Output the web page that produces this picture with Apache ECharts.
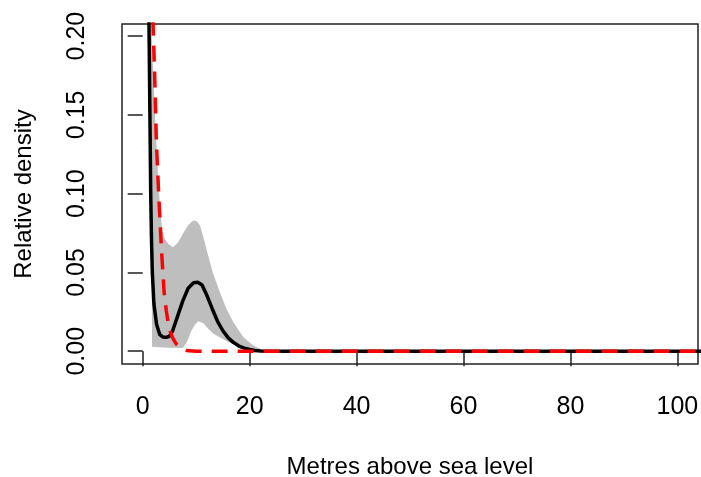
<!DOCTYPE html>
<html>
<head>
<meta charset="utf-8">
<script src="https://cdn.jsdelivr.net/npm/echarts@6/dist/echarts.min.js"></script>
<style>
html,body{margin:0;padding:0;background:#fff;}
#chart{width:701px;height:477px;}
</style>
</head>
<body>
<div id="chart"></div>
<script>
// Tick labels
var xTicks = [0, 20, 40, 60, 80, 100];
var yTicks = [0, 0.05, 0.10, 0.15, 0.20];

// Black solid curve (estimated density)
var blackX = [1.05, 1.2, 1.35, 1.5, 1.65, 1.8, 2.1, 2.6, 3.2, 3.8, 4.4, 5.0, 5.6, 6.5, 7.5, 8.5, 9.5, 10.3, 11.1, 12.0, 13.0, 14.0, 15.0, 16.0, 17.0, 18.0, 19.0, 20.0, 21.0, 22.0, 24.0, 30, 50, 70, 90, 110];
var blackY = [0.26, 0.20, 0.15, 0.10, 0.07, 0.05, 0.03, 0.017, 0.0105, 0.009, 0.0088, 0.0095, 0.013, 0.022, 0.032, 0.040, 0.0435, 0.0438, 0.042, 0.0355, 0.027, 0.019, 0.013, 0.0085, 0.0055, 0.0033, 0.002, 0.0011, 0.0005, 0.0002, 0, 0, 0, 0, 0, 0];

// Red dashed curve (reference density)
var redX = [1.7, 1.93, 2.24, 2.56, 3.0, 3.5, 4.0, 4.4, 4.73, 5.2, 5.67, 6.3, 7.2, 8.2, 10, 30, 50, 70, 90, 110];
var redY = [0.26, 0.208, 0.175, 0.133, 0.099, 0.065, 0.0377, 0.026, 0.0187, 0.012, 0.008, 0.0045, 0.002, 0.0005, 0, 0, 0, 0, 0, 0];

// Grey confidence band
var bandUpX = [1.0, 1.6, 2.3, 2.9, 3.3, 3.7, 4.1, 4.8, 5.67, 6.6, 7.6, 8.5, 9.4, 10.1, 10.7, 11.3, 11.9, 13.1, 14.4, 15.65, 16.9, 18.8, 20.6, 22.0, 23.1, 25.0];
var bandUpY = [0.30, 0.21, 0.15, 0.11, 0.088, 0.076, 0.0715, 0.068, 0.066, 0.069, 0.075, 0.080, 0.083, 0.0825, 0.080, 0.073, 0.065, 0.050, 0.0377, 0.027, 0.0187, 0.0091, 0.0038, 0.0015, 0.0006, 0];
var bandLoX = [1.0, 1.2, 1.4, 1.6, 1.7, 1.75, 3.0, 5.0, 7.5, 8.3, 9.1, 9.8, 10.4, 11.3, 12.2, 13.3, 14.4, 16.0, 17.5, 19.0, 20.6, 23.0, 25.0];
var bandLoY = [0.25, 0.17, 0.11, 0.07, 0.04, 0.0028, 0.0025, 0.0022, 0.002, 0.006, 0.013, 0.017, 0.019, 0.018, 0.0144, 0.011, 0.0088, 0.0058, 0.0036, 0.002, 0.001, 0.0002, 0];

function zip(a, b) { return a.map(function (v, i) { return [v, b[i]]; }); }

var FONT = 'Liberation Sans, Arial, sans-serif';
var FS = 25;
var chart = echarts.init(document.getElementById('chart'));

chart.setOption({
  animation: false,
  backgroundColor: '#fff',
  grid: {
    left: 122, top: 24, width: 576, height: 340,
    containLabel: false, outerBoundsMode: 'none',
    show: true, borderColor: '#222', borderWidth: 1.5, backgroundColor: 'transparent'
  },
  xAxis: {
    type: 'value', min: -3.87, max: 103.85,
    axisLine: { show: false },
    splitLine: { show: false },
    axisTick: { show: true, customValues: xTicks, length: 15, lineStyle: { color: '#222', width: 1.5 } },
    axisLabel: { customValues: xTicks, margin: 31, fontSize: FS, color: '#000', fontFamily: FONT },
    name: 'Metres above sea level', nameLocation: 'middle', nameGap: 91,
    nameTextStyle: { fontSize: 24, color: '#000', fontFamily: FONT }
  },
  yAxis: {
    type: 'value', min: -0.0081, max: 0.2077,
    axisLine: { show: false },
    splitLine: { show: false },
    axisTick: { show: true, customValues: yTicks, length: 15, lineStyle: { color: '#222', width: 1.5 } },
    axisLabel: { customValues: yTicks, rotate: 90, margin: 32, fontSize: FS, color: '#000', fontFamily: FONT,
      formatter: function (v) { return v.toFixed(2); } },
    name: 'Relative density', nameLocation: 'middle', nameGap: 86, nameRotate: 90,
    nameTextStyle: { fontSize: 24, color: '#000', fontFamily: FONT }
  },
  series: [
    {
      type: 'custom',
      silent: true,
      data: [[0, 0]],
      encode: { x: 0, y: 1 },
      renderItem: function (params, api) {
        var pts = [];
        for (var i = 0; i < bandUpX.length; i++) pts.push(api.coord([bandUpX[i], bandUpY[i]]));
        for (var j = bandLoX.length - 1; j >= 0; j--) pts.push(api.coord([bandLoX[j], bandLoY[j]]));
        var cs = params.coordSys;
        pts = echarts.graphic.clipPointsByRect(pts, { x: cs.x, y: cs.y, width: cs.width, height: cs.height });
        return { type: 'polygon', shape: { points: pts }, style: { fill: '#bebebe', stroke: null } };
      },
      z: 1
    },
    {
      type: 'line', data: zip(blackX, blackY), showSymbol: false, symbol: 'none',
      lineStyle: { color: '#000', width: 3.5 }, clip: true, z: 2
    },
    {
      type: 'line', data: zip(redX, redY), showSymbol: false, symbol: 'none',
      lineStyle: { color: '#ff0000', width: 3.5, type: [16, 10] }, clip: true, z: 3
    }
  ]
});
</script>
</body>
</html>
